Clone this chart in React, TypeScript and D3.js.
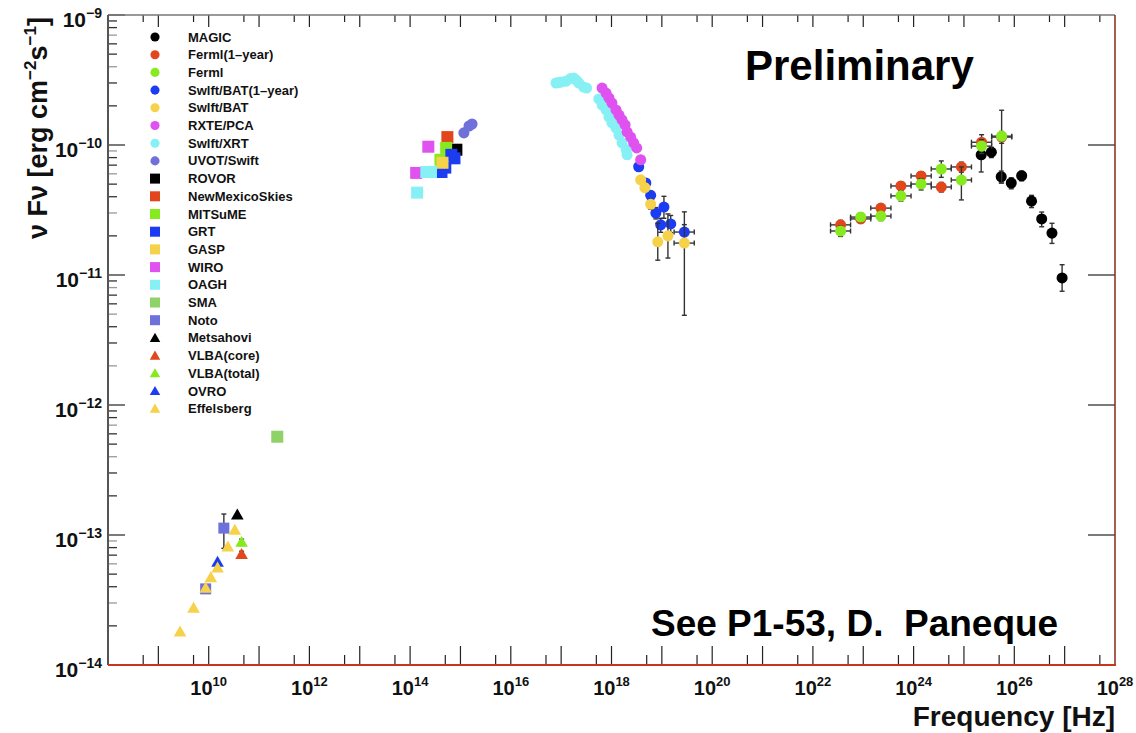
import React from 'react';
import * as d3 from 'd3';

// [frequency Hz, nuFnu, err down, err up, freq low, freq high]
type Pt = [number, number, number?, number?, number?, number?];

const magic: Pt[] = [
  [2.2e25, 8.4e-11, 2.2e-11, 1.0e-11],
  [3.5e25, 8.8e-11, 0.8e-11, 0.8e-11],
  [5.5e25, 5.7e-11, 0.6e-11, 0.6e-11],
  [8.7e25, 5.1e-11, 0.5e-11, 0.5e-11],
  [1.4e26, 5.8e-11, 0.5e-11, 0.5e-11],
  [2.2e26, 3.7e-11, 0.4e-11, 0.4e-11],
  [3.5e26, 2.7e-11, 0.35e-11, 0.35e-11],
  [5.6e26, 2.1e-11, 0.35e-11, 0.4e-11],
  [8.9e26, 9.5e-12, 2.0e-12, 2.5e-12],
];

const fermiCenters = [3.55e22, 8.9e22, 2.24e23, 5.6e23, 1.41e24, 3.55e24, 8.9e24, 2.24e25, 5.6e25];
const fermiEdges = [2.24e22, 5.6e22, 1.41e23, 3.55e23, 8.9e23, 2.24e24, 5.6e24, 1.41e25, 3.55e25, 8.9e25];
const fermi1yrFlux = [2.43e-11, 2.7e-11, 3.27e-11, 4.84e-11, 5.78e-11, 4.75e-11, 6.78e-11, 1.05e-10, 1.15e-10];
const fermi1yrErr = [0.2e-11, 0.2e-11, 0.25e-11, 0.35e-11, 0.45e-11, 0.4e-11, 0.6e-11, 1.5e-11, 1.2e-11];
const fermiFlux = [2.18e-11, 2.79e-11, 2.84e-11, 4.06e-11, 5.01e-11, 6.54e-11, 5.38e-11, 9.8e-11, 1.17e-10];
const fermiErrLo = [0.2e-11, 0.22e-11, 0.22e-11, 0.35e-11, 0.5e-11, 0.9e-11, 1.6e-11, 1.2e-11, 6.6e-11];
const fermiErrHi = [0.2e-11, 0.22e-11, 0.22e-11, 0.35e-11, 0.5e-11, 1.0e-11, 1.4e-11, 1.2e-11, 6.8e-11];

const batYear: Pt[] = [
  [3.47e18, 6.8e-11, 0.3e-11, 0.3e-11],
  [4.8e18, 5.1e-11, 0.3e-11, 0.3e-11],
  [6.0e18, 4.1e-11, 0.3e-11, 0.3e-11],
  [7.6e18, 3.0e-11, 0.3e-11, 0.3e-11],
  [9.5e18, 2.43e-11, 0.3e-11, 0.3e-11],
  [1.1e19, 3.33e-11, 0.6e-11, 0.7e-11],
  [1.5e19, 2.47e-11, 0.35e-11, 0.4e-11],
  [2.8e19, 2.14e-11, 0.25e-11, 0.3e-11, 1.75e19, 4.4e19],
];

const bat: Pt[] = [
  [3.8e18, 5.4e-11, 0.3e-11, 0.3e-11],
  [4.6e18, 4.7e-11, 0.3e-11, 0.3e-11],
  [6.0e18, 3.5e-11, 0.3e-11, 0.3e-11],
  [8.3e18, 1.8e-11, 0.5e-11, 0.7e-11],
  [1.32e19, 2.0e-11, 0.65e-11, 0.95e-11],
  [2.8e19, 1.76e-11, 1.27e-11, 1.3e-11, 1.75e19, 4.4e19],
];

const rxte: Pt[] = [
  [6.5e17, 2.74e-10], [7.8e17, 2.51e-10], [8.9e17, 2.3e-10], [1.02e18, 2.1e-10],
  [1.23e18, 1.86e-10], [1.41e18, 1.7e-10], [1.62e18, 1.56e-10], [1.86e18, 1.43e-10],
  [2.04e18, 1.26e-10], [2.4e18, 1.15e-10], [2.75e18, 1.04e-10], [3.16e18, 9.5e-11],
  [3.8e18, 7.7e-11],
];

const xrt: Pt[] = [
  [7.9e16, 3.0e-10], [8.9e16, 3.02e-10], [1.0e17, 3.05e-10], [1.26e17, 3.1e-10],
  [1.55e17, 3.25e-10], [1.78e17, 3.27e-10], [2.0e17, 3.15e-10], [2.24e17, 3.0e-10],
  [2.8e17, 2.79e-10], [3.2e17, 2.74e-10], [5.6e17, 2.26e-10], [6.5e17, 2.03e-10],
  [7.8e17, 1.86e-10], [8.9e17, 1.64e-10], [1.02e18, 1.48e-10], [1.23e18, 1.35e-10],
  [1.41e18, 1.19e-10], [1.62e18, 1.04e-10], [1.95e18, 9.2e-11], [2.04e18, 8.4e-11],
];

const uvot: Pt[] = [[1.17e15, 1.24e-10], [1.48e15, 1.4e-10], [1.7e15, 1.45e-10]];
const rovor: Pt[] = [[8.3e14, 9.2e-11]];
const nms: Pt[] = [[5.5e14, 1.15e-10]];
const mitsume: Pt[] = [[5.2e14, 9.5e-11], [4.0e14, 7.7e-11]];
const grt: Pt[] = [[6.6e14, 8.4e-11], [7.6e14, 7.9e-11], [4.2e14, 6.2e-11], [5.0e14, 6.7e-11]];
const gasp: Pt[] = [[4.4e14, 7.3e-11]];
const wiro: Pt[] = [[2.3e14, 9.7e-11], [1.32e14, 6.1e-11]];
const oagh: Pt[] = [[2.1e14, 6.2e-11], [2.6e14, 6.2e-11], [1.38e14, 4.3e-11]];
const sma: Pt[] = [[2.3e11, 5.7e-13, 0.4e-13, 0.4e-13]];
const noto: Pt[] = [[2.0e10, 1.13e-13, 3.4e-14, 3.2e-14], [8.7e9, 3.85e-14, 0.2e-14, 0.2e-14]];
const metsahovi: Pt[] = [[3.7e10, 1.43e-13]];
const vlbaCore: Pt[] = [[4.5e10, 7.1e-14, 0.4e-14, 0.4e-14]];
const vlbaTotal: Pt[] = [[4.5e10, 8.8e-14, 0.5e-14, 0.5e-14]];
const ovro: Pt[] = [[1.5e10, 6.2e-14]];
const effelsberg: Pt[] = [
  [2.7e9, 1.8e-14], [5.0e9, 2.74e-14], [8.7e9, 3.9e-14], [1.1e10, 4.7e-14],
  [1.5e10, 5.6e-14], [2.4e10, 8.1e-14], [3.3e10, 1.09e-13],
];

const fermi1yr: Pt[] = fermiCenters.map((c, i) => [c, fermi1yrFlux[i], fermi1yrErr[i], fermi1yrErr[i], fermiEdges[i], fermiEdges[i + 1]]);
const fermi: Pt[] = fermiCenters.map((c, i) => [c, fermiFlux[i], fermiErrLo[i], fermiErrHi[i], fermiEdges[i], fermiEdges[i + 1]]);

type Shape = 'circle' | 'square' | 'triangle';
interface Series { name: string; shape: Shape; color: string; pts: Pt[] }

const series: Series[] = [
  { name: 'MAGIC', shape: 'circle', color: '#000000', pts: magic },
  { name: 'Ferml(1\u2013year)', shape: 'circle', color: '#e2461c', pts: fermi1yr },
  { name: 'Ferml', shape: 'circle', color: '#86ea1e', pts: fermi },
  { name: 'Swlft/BAT(1\u2013year)', shape: 'circle', color: '#1c3cf2', pts: batYear },
  { name: 'Swlft/BAT', shape: 'circle', color: '#f6d14a', pts: bat },
  { name: 'RXTE/PCA', shape: 'circle', color: '#e052f0', pts: rxte },
  { name: 'Swlft/XRT', shape: 'circle', color: '#86f0f4', pts: xrt },
  { name: 'UVOT/Swift', shape: 'circle', color: '#7070da', pts: uvot },
  { name: 'ROVOR', shape: 'square', color: '#000000', pts: rovor },
  { name: 'NewMexicoSkies', shape: 'square', color: '#e2461c', pts: nms },
  { name: 'MITSuME', shape: 'square', color: '#86ea1e', pts: mitsume },
  { name: 'GRT', shape: 'square', color: '#1c3cf2', pts: grt },
  { name: 'GASP', shape: 'square', color: '#f6d14a', pts: gasp },
  { name: 'WIRO', shape: 'square', color: '#e052f0', pts: wiro },
  { name: 'OAGH', shape: 'square', color: '#86f0f4', pts: oagh },
  { name: 'SMA', shape: 'square', color: '#8ed268', pts: sma },
  { name: 'Noto', shape: 'square', color: '#7070da', pts: noto },
  { name: 'Metsahovi', shape: 'triangle', color: '#000000', pts: metsahovi },
  { name: 'VLBA(core)', shape: 'triangle', color: '#e2461c', pts: vlbaCore },
  { name: 'VLBA(total)', shape: 'triangle', color: '#86ea1e', pts: vlbaTotal },
  { name: 'OVRO', shape: 'triangle', color: '#1c3cf2', pts: ovro },
  { name: 'Effelsberg', shape: 'triangle', color: '#f6d14a', pts: effelsberg },
];

// draw XRT under RXTE
const drawOrder = ['Swlft/XRT', 'MAGIC', 'Ferml(1\u2013year)', 'Ferml', 'Swlft/BAT(1\u2013year)', 'Swlft/BAT', 'RXTE/PCA', 'UVOT/Swift',
  'ROVOR', 'NewMexicoSkies', 'MITSuME', 'GRT', 'GASP', 'WIRO', 'OAGH', 'SMA', 'Noto',
  'Metsahovi', 'VLBA(core)', 'VLBA(total)', 'OVRO', 'Effelsberg'];

const W = 1136;
const H = 733;
const L = 108, R = 1115, T = 15, B = 665;
const font = '"Liberation Sans", Arial, Helvetica, sans-serif';

const x = d3.scaleLog().domain([1e8, 1e28]).range([L, R]);
const y = d3.scaleLog().domain([1e-14, 1e-9]).range([B, T]);

const xDecades = d3.range(9, 28);
const xLabels = d3.range(10, 29, 2);
const yDecades = d3.range(-14, -8);

const Marker = ({ shape, color, cx, cy, s }: { shape: Shape; color: string; cx: number; cy: number; s: number }) => {
  if (shape === 'circle') return <circle cx={cx} cy={cy} r={s * 0.48} fill={color} />;
  if (shape === 'square') return <rect x={cx - s / 2} y={cy - s / 2} width={s} height={s} fill={color} />;
  const path = d3.symbol(d3.symbolTriangle, s * s * 0.48)();
  return <path d={path || ''} transform={`translate(${cx},${cy + 1})`} fill={color} />;
};

const ErrorBars = ({ p }: { p: Pt }) => {
  const [nu, f, lo, hi, xl, xh] = p;
  const cx = x(nu), cy = y(f);
  const out: React.ReactNode[] = [];
  if (lo !== undefined && hi !== undefined) {
    const y1 = y(f - lo), y2 = y(f + hi);
    out.push(<line key="v" x1={cx} x2={cx} y1={y1} y2={y2} />);
    out.push(<line key="c1" x1={cx - 2.5} x2={cx + 2.5} y1={y1} y2={y1} />);
    out.push(<line key="c2" x1={cx - 2.5} x2={cx + 2.5} y1={y2} y2={y2} />);
  }
  if (xl !== undefined && xh !== undefined) {
    const x1 = x(xl), x2 = x(xh);
    out.push(<line key="h" x1={x1} x2={x2} y1={cy} y2={cy} />);
    out.push(<line key="c3" x1={x1} x2={x1} y1={cy - 2.5} y2={cy + 2.5} />);
    out.push(<line key="c4" x1={x2} x2={x2} y1={cy - 2.5} y2={cy + 2.5} />);
  }
  return <g stroke="#333" strokeWidth={1.4}>{out}</g>;
};

const markerSize = (s: Series) => (s.shape === 'circle' ? 11.5 : 12);

export default function App() {
  const ordered = drawOrder.map((n) => series.find((s) => s.name === n)!);
  const yMinor: number[] = [];
  yDecades.slice(0, -1).forEach((d) => {
    for (let k = 2; k <= 9; k++) yMinor.push(k * Math.pow(10, d));
  });

  return (
    <svg width={W} height={H} style={{ position: 'absolute', left: 0, top: 0, background: '#fff' }} fontFamily={font}>
      <rect x={0} y={0} width={W} height={H} fill="#fff" />

      {/* bottom and top axis ticks */}
      <g stroke="#222" strokeWidth={1.2}>
        {xDecades.map((d) => (
          <line key={'xb' + d} x1={x(Math.pow(10, d))} x2={x(Math.pow(10, d))} y1={B} y2={B - 19} />
        ))}
        {d3.range(8, 28).map((d) => (
          <line key={'xs' + d} x1={x(5 * Math.pow(10, d))} x2={x(5 * Math.pow(10, d))} y1={B} y2={B - 10} />
        ))}
        {xDecades.map((d) => (
          <line key={'xt' + d} x1={x(Math.pow(10, d))} x2={x(Math.pow(10, d))} y1={T} y2={T + 12} />
        ))}
        {d3.range(8, 28).map((d) => (
          <line key={'xts' + d} x1={x(5 * Math.pow(10, d))} x2={x(5 * Math.pow(10, d))} y1={T} y2={T + 7} />
        ))}
      </g>

      {/* left and right axis ticks */}
      <g stroke="#333" strokeWidth={1.3}>
        {yDecades.map((d) => (
          <line key={'yd' + d} x1={L} x2={L + 17} y1={y(Math.pow(10, d))} y2={y(Math.pow(10, d))} />
        ))}
        {yMinor.map((v, i) => (
          <line key={'ym' + i} x1={L} x2={L + 9} y1={y(v)} y2={y(v)} stroke={i % 3 === 1 ? '#999' : '#333'} />
        ))}
        {yDecades.slice(1, -1).map((d) => (
          <line key={'yr' + d} x1={R} x2={R - 27} y1={y(Math.pow(10, d))} y2={y(Math.pow(10, d))} />
        ))}
      </g>

      {/* frame */}
      <line x1={L} x2={R} y1={T} y2={T} stroke="#777" strokeWidth={1.5} />
      <line x1={L} x2={L} y1={T} y2={B} stroke="#555" strokeWidth={2} />
      <line x1={R} x2={R} y1={T} y2={B} stroke="#8a2a1a" strokeWidth={1.5} />
      <line x1={L} x2={R + 1} y1={B} y2={B} stroke="#c8361c" strokeWidth={2} />

      {/* x tick labels */}
      <g fontSize={20} fontWeight="bold" fill="#111">
        {xLabels.map((d) => (
          <text key={'xl' + d} x={x(Math.pow(10, d))} y={695} textAnchor="middle">
            10<tspan dy={-9} fontSize={13}>{d}</tspan>
          </text>
        ))}
      </g>

      {/* y tick labels */}
      <g fontSize={21} fontWeight="bold" fill="#111">
        {yDecades.map((d) => (
          <text key={'yl' + d} x={102} y={y(Math.pow(10, d)) + 12} textAnchor="end">
            10<tspan dy={-9} fontSize={14}>{'\u2212' + Math.abs(d)}</tspan>
          </text>
        ))}
      </g>

      {/* axis titles */}
      <text x={R} y={726} textAnchor="end" fontSize={28} fontWeight="bold" fill="#111">Frequency [Hz]</text>
      <text transform="translate(47,128) rotate(-90)" textAnchor="middle" fontSize={27} fontWeight="bold" fill="#111">
        {'\u03bd F\u03bd [erg cm'}
        <tspan dy={-11} fontSize={17}>{'\u22122'}</tspan>
        <tspan dy={11}>s</tspan>
        <tspan dy={-11} fontSize={17}>{'\u22121'}</tspan>
        <tspan dy={11}>]</tspan>
      </text>

      {/* data */}
      {ordered.map((s) => (
        <g key={s.name}>
          {s.pts.map((p, i) => <ErrorBars key={'e' + i} p={p} />)}
          {s.pts.map((p, i) => (
            <Marker key={'m' + i} shape={s.shape} color={s.color} cx={x(p[0])} cy={y(p[1])}
              s={s.name === 'Noto' ? 11 : markerSize(s)} />
          ))}
        </g>
      ))}

      {/* legend */}
      <g fontSize={13} fontWeight="bold" fill="#111">
        {series.map((s, i) => {
          const ly = 37 + i * 17.7;
          return (
            <g key={'lg' + i}>
              <Marker shape={s.shape} color={s.color} cx={155} cy={ly} s={s.shape === 'circle' ? 9.5 : 10} />
              <text x={188} y={ly + 4.5}>{s.name}</text>
            </g>
          );
        })}
      </g>

      <text x={745} y={80} fontSize={42} fontWeight="bold" fill="#000">Preliminary</text>
      <text x={651} y={636} fontSize={37} fontWeight="bold" fill="#000" style={{ whiteSpace: 'pre' }}>
        {'See P1-53, D.  Paneque'}
      </text>
    </svg>
  );
}
